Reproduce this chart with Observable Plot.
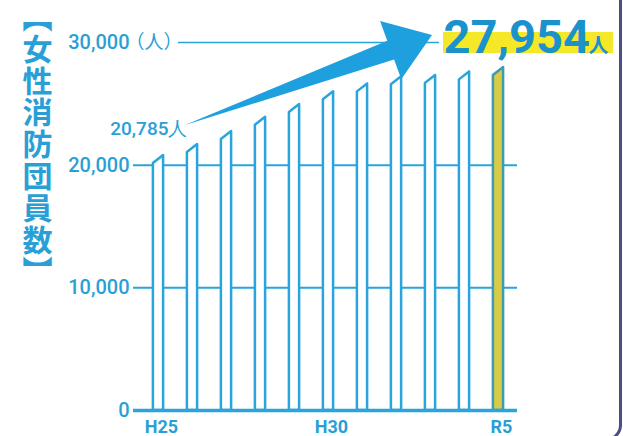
<!DOCTYPE html>
<html><head><meta charset="utf-8">
<script src="https://cdn.jsdelivr.net/npm/d3@7"></script>
<script src="https://cdn.jsdelivr.net/npm/@observablehq/plot@0.6"></script>
<style>
body{margin:0;background:#fff;}
#wrap{position:relative;width:623px;height:436px;overflow:hidden;background:#fff;}
#frame{position:absolute;left:-20px;top:-20px;width:642px;height:461px;border-right:3px solid #4b4f7e;border-bottom:3px solid #4b4f7e;border-bottom-right-radius:16px;box-sizing:border-box;pointer-events:none;}
svg{display:block;}
</style></head><body><div id="wrap"><div id="frame"></div></div>
<script>
// ---- data ----
const years = ["H25","H26","H27","H28","H29","H30","R1","R2","R3","R4","R5"];
const members = [20785,21684,22747,23899,24947,25981,26625,27200,27317,27603,27954];
const yTicks = [0,10000,20000,30000];
const yTickLabels = ["0","10,000","20,000","30,000"];
const xTickLabels = ["H25","H30","R5"];
const unit = "人";
const titleChars = ["︻","女","性","消","防","団","員","数","︼"];

// ---- styles ----
const blue = "#29a4dc";
const textBlue = "#2a9fd6";
const numFont = "Roboto,'Open Sans',sans-serif";
const cjk = "'Noto Sans CJK JP',sans-serif";
const last = members.length - 1;

// bar outline points (index units / data units): slanted top
const hw = 0.15, slant = 650;
const barPts = members.flatMap((v, i) => [
  {i, x: i - hw, y: v - slant},
  {i, x: i + hw, y: v}
]);

function annotations(index, scales) {
  const x = scales.x, y = scales.y;
  const g = d3.create("svg:g");
  // yellow highlight behind the last value
  const hx = x(last) - 55, hy = y(30000) - 10;
  g.append("rect").attr("x", hx).attr("y", hy).attr("width", 170).attr("height", 21).attr("fill", "#f5e829");
  // tapered arrow from first value to last value
  const T = [x(0) + 27, y(members[0]) - 30];
  const P = [x(last) - 66, y(30000) - 7];
  const dx = P[0] - T[0], dy = P[1] - T[1], L = Math.hypot(dx, dy);
  const u = [dx / L, dy / L], n = [u[1], -u[0]];
  const headLen = 44, headHalf = 31, shaftHalf = 10;
  const B = [P[0] - u[0] * headLen, P[1] - u[1] * headLen];
  const pt = (b, k) => [b[0] + n[0] * k, b[1] + n[1] * k];
  const pts = [T, pt(B, shaftHalf), pt(B, headHalf), P, pt(B, -headHalf), pt(B, -shaftHalf)];
  g.append("path").attr("d", "M" + pts.map(p => p.join(",")).join("L") + "Z").attr("fill", "#1fa0de");
  return g.node();
}

const chart = Plot.plot({
  width: 623,
  height: 436,
  marginTop: 42,
  marginBottom: 26,
  marginLeft: 133,
  marginRight: 106,
  x: {domain: [0, last], range: [158, 498], axis: null},
  y: {domain: [0, 30000], axis: null},
  marks: [
    Plot.ruleY([10000, 20000], {stroke: blue, strokeWidth: 2}),
    Plot.ruleY([30000], {stroke: blue, strokeWidth: 1.6, insetLeft: 45, insetRight: 78}),
    Plot.areaY(barPts.filter(d => d.i !== last), {x: "x", y: "y", z: "i", fill: "white", stroke: blue, strokeWidth: 2.5}),
    Plot.areaY(barPts.filter(d => d.i === last), {x: "x", y: "y", z: "i", fill: "#d8cb47", stroke: "#3e9bb0", strokeWidth: 2.5}),
    Plot.ruleY([0], {stroke: blue, strokeWidth: 3.5}),
    annotations,
    // y tick labels
    Plot.text(yTicks, {y: d => d, text: (d, i) => yTickLabels[i], frameAnchor: "left", dx: -4, textAnchor: "end",
      fill: textBlue, fontSize: 20, letterSpacing: -0.8, fontWeight: 500, fontFamily: numFont}),
    Plot.text(["（人）"], {y: [30000], frameAnchor: "left", dx: -8, textAnchor: "start",
      fill: textBlue, fontSize: 19, letterSpacing: -4, fontFamily: cjk}),
    // x tick labels
    Plot.text(xTickLabels, {x: d => years.indexOf(d), y: 0, dx: 3, dy: 22, lineAnchor: "bottom",
      fill: textBlue, fontSize: 18, fontWeight: "bold", fontFamily: numFont}),
    // first value label
    Plot.text([members[0]], {x: 0, y: d => d, dx: 29, dy: -27, textAnchor: "end",
      text: d => d3.format(",")(d) + unit, fill: textBlue, fontSize: 19, letterSpacing: -0.8, fontWeight: 500, fontFamily: numFont}),
    // last value label
    Plot.text([members[last]], {x: last, y: 30000, dx: -55, dy: 10, textAnchor: "start", lineAnchor: "bottom",
      text: d => d3.format(",")(d), fill: "#1b92cc", fontSize: 47, letterSpacing: -1, fontWeight: "bold", fontFamily: numFont}),
    Plot.text([unit], {x: last, y: 30000, dx: 90, dy: 10, textAnchor: "start", lineAnchor: "bottom",
      fill: "#1b92cc", fontSize: 20, fontWeight: "bold", fontFamily: cjk}),
    // vertical title, one character per line
    Plot.text([titleChars.join("\n")], {frameAnchor: "top-left", dx: -96, dy: -37, lineAnchor: "top", textAnchor: "middle",
      lineHeight: 1.06, fill: textBlue, fontSize: 30, fontWeight: "bold", fontFamily: cjk})
  ]
});
document.getElementById("wrap").appendChild(chart);
</script>
</body></html>
